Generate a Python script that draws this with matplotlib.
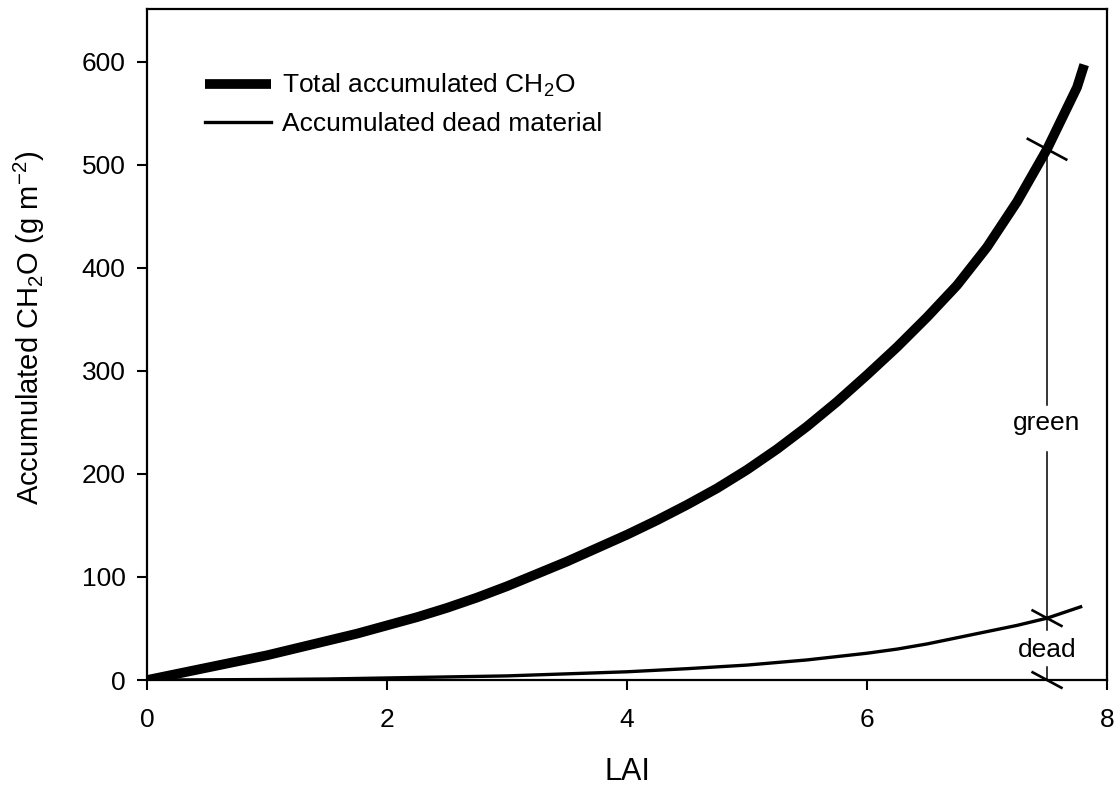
import matplotlib
matplotlib.use("Agg")
import matplotlib.pyplot as plt

plt.rcParams['font.family'] = ['Liberation Sans', 'DejaVu Sans']
plt.rcParams['mathtext.fontset'] = 'custom'
plt.rcParams['mathtext.rm'] = 'Liberation Sans'
plt.rcParams['mathtext.it'] = 'Liberation Sans:italic'
plt.rcParams['mathtext.bf'] = 'Liberation Sans:bold'
plt.rcParams['axes.unicode_minus'] = False

# Data
lai_total = [0.0, 0.25, 0.5, 0.75, 1.0, 1.25, 1.5, 1.75, 2.0, 2.25, 2.5, 2.75, 3.0,
             3.25, 3.5, 3.75, 4.0, 4.25, 4.5, 4.75, 5.0, 5.25, 5.5, 5.75, 6.0,
             6.25, 6.5, 6.75, 7.0, 7.25, 7.5, 7.75, 7.81]
ch2o_total = [0, 6, 12, 18, 24, 31, 38, 45, 53, 61, 70, 80, 91,
              103, 115, 128, 141, 155, 170, 186, 204, 224, 246, 270, 296,
              323, 352, 383, 420, 464, 515, 575, 597]
lai_dead = [0.0, 0.5, 1.0, 1.5, 2.0, 2.5, 3.0, 3.5, 4.0, 4.5, 5.0, 5.5, 6.0,
            6.25, 6.5, 6.75, 7.0, 7.25, 7.5, 7.78]
ch2o_dead = [0, 0.2, 0.5, 1, 2, 3, 4, 6, 8, 11, 14.5, 19.5, 26,
             30, 35, 41, 47, 53, 60, 71]

marker_lai = 7.5
green_top = 515
dead_top = 60
xticks = [0, 2, 4, 6, 8]
yticks = [0, 100, 200, 300, 400, 500, 600]

fig = plt.figure(figsize=(11.19, 7.91), dpi=100)
ax = fig.add_axes([0.1314, 0.1403, 0.9893 - 0.1314, 0.9886 - 0.1403])

ax.plot(lai_total, ch2o_total, color='black', lw=7, solid_capstyle='butt',
        solid_joinstyle='round', label='Total accumulated CH$_2$O')
ax.plot(lai_dead, ch2o_dead, color='black', lw=2.4, solid_joinstyle='round',
        label='Accumulated dead material')

# vertical marker line broken around the labels
vl = dict(color='black', lw=1.1)
ax.plot([marker_lai, marker_lai], [0, 12.6], clip_on=False, **vl)
ax.plot([marker_lai, marker_lai], [48.5, 221], **vl)
ax.plot([marker_lai, marker_lai], [267, green_top], **vl)
ax.text(marker_lai, 249, 'green', ha='center', va='center', fontsize=19)
ax.text(marker_lai, 29, 'dead', ha='center', va='center', fontsize=19)

# slanted crossing marks
for yv, dx, dy in [(green_top, 0.16, 10), (dead_top, 0.12, 7.5), (0, 0.12, 7.5)]:
    ax.plot([marker_lai - dx, marker_lai + dx], [yv + dy, yv - dy], color='black',
            lw=1.9, clip_on=False)

ax.set_xlim(0, 8)
ax.set_ylim(0, 651)
ax.set_xticks(xticks)
ax.set_yticks(yticks)
ax.tick_params(direction='out', length=7.5, width=1.5, labelsize=19)
ax.tick_params(axis='x', pad=13)
ax.tick_params(axis='y', pad=8)
for s in ax.spines.values():
    s.set_linewidth(1.6)

ax.set_xlabel('LAI', fontsize=22)
ax.xaxis.set_label_coords(0.5, -0.114)
ax.set_ylabel('Accumulated CH$_2$O (g m$^{-2}$)', fontsize=21)
ax.yaxis.set_label_coords(-0.104, 0.525)

leg = ax.legend(loc='upper left', bbox_to_anchor=(0.0525, 0.918), frameon=False,
                fontsize=19, handlelength=2.5, handletextpad=0.4,
                labelspacing=0.48, borderaxespad=0, borderpad=0.3)

fig.savefig('out.png', dpi=100)
